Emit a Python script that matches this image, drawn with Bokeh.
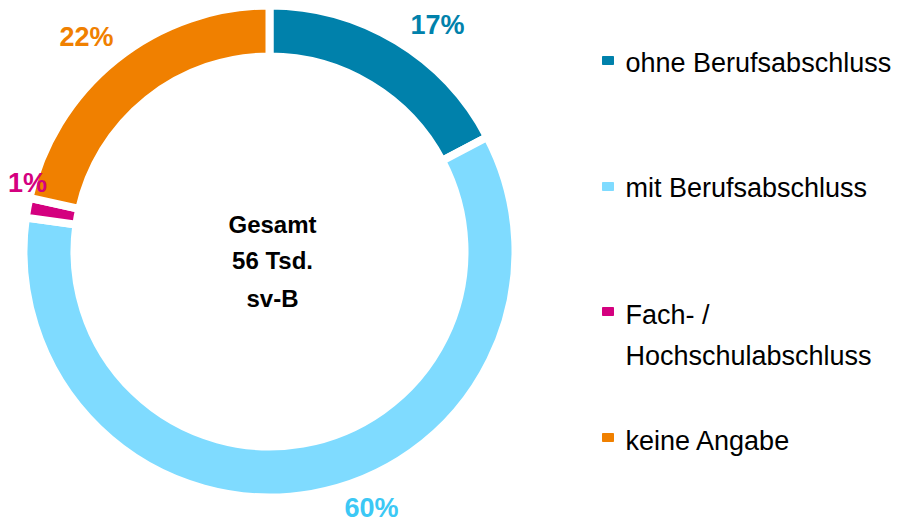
import math
from bokeh.plotting import figure
from bokeh.models import Range1d, ColumnDataSource
from bokeh.core.properties import value
from bokeh.embed import file_html
from bokeh.resources import INLINE

categories = ["ohne Berufsabschluss", "mit Berufsabschluss", "Fach- /\nHochschulabschluss", "keine Angabe"]
shares = [17.3, 59.9, 1.3, 21.5]
pct_labels = ["17%", "60%", "1%", "22%"]
colors = ["#0081AB", "#7FDBFF", "#D4007F", "#F08000"]
label_colors = ["#0081AB", "#3CC8F5", "#D4007F", "#F08000"]
center_lines = ["Gesamt", "56 Tsd.", "sv-B"]

W, H = 899, 522
p = figure(width=W, height=H, output_backend="svg", toolbar_location=None,
           x_range=Range1d(0, W), y_range=Range1d(0, H), min_border=0,
           outline_line_color=None)
p.axis.visible = False
p.grid.visible = False
p.background_fill_color = "white"
p.border_fill_color = "white"

def sy(y):  # screen y -> data y
    return H - y

def sx(x):
    return x

cx, cy = sx(269), sy(251)
total = sum(shares)
starts, ends = [], []
cum = 0.0
for s in shares:
    a0 = math.pi / 2 - 2 * math.pi * (cum + s) / total
    a1 = math.pi / 2 - 2 * math.pi * cum / total
    starts.append(a0)
    ends.append(a1)
    cum += s

src = ColumnDataSource(dict(start=starts, end=ends, color=colors))
p.annular_wedge(x=cx, y=cy, inner_radius=195, outer_radius=246,
                start_angle="start", end_angle="end", color="color",
                line_color="white", line_width=8, source=src)

# percentage labels
lab_pos = [(437, 24), (371, 507), (27, 182), (86, 36)]
for (x, y), t, c in zip(lab_pos, pct_labels, label_colors):
    p.text(x=[sx(x)], y=[sy(y)], text=[t], text_color=c, text_font_size="27px",
           text_font=value("Liberation Sans"), text_font_style="bold",
           text_align="center", text_baseline="middle")

# center text
for t, y in zip(center_lines, [224, 260, 298]):
    p.text(x=[sx(272)], y=[sy(y)], text=[t], text_color="black", text_font_size="24px",
           text_font=value("Liberation Sans"), text_font_style="bold",
           text_align="center", text_baseline="middle")

# legend
leg_y = [60, 186, 311, 437]
p.rect(x=[sx(607.5)] * 4, y=[sy(y) for y in leg_y], width=11, height=8, color=colors)
text_rows = [(categories[0], 62), (categories[1], 187), ("Fach- /", 314), ("Hochschulabschluss", 355), (categories[3], 440)]
for t, y in text_rows:
    p.text(x=[sx(625)], y=[sy(y)], text=[t], text_color="black", text_font_size="27px",
           text_font=value("Liberation Sans"), text_align="left", text_baseline="middle")

open("out.html", "w").write(file_html(p, INLINE))
